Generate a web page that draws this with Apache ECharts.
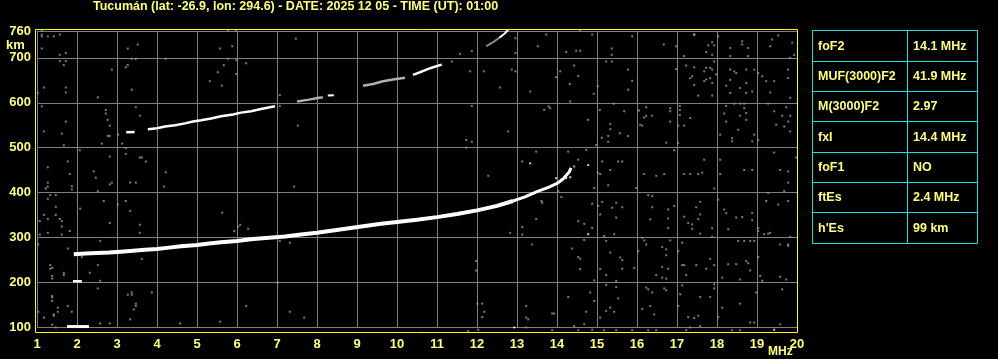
<!DOCTYPE html>
<html><head><meta charset="utf-8">
<script src="https://cdn.jsdelivr.net/npm/echarts@6/dist/echarts.min.js"></script>
<style>html,body{margin:0;padding:0;background:#000;}#c{width:998px;height:359px;}</style>
</head><body><div id="c"></div>
<script>
// ---------- DATA ----------
const titleText = 'Tucumán (lat: -26.9, lon: 294.6) - DATE: 2025 12 05 - TIME (UT): 01:00';
const freqMin = 1, freqMax = 20, freqStep = 1;
const heightMin = 100, heightMax = 760, heightStep = 100;
const yUnit = 'km';
const xUnit = 'MHz';

const tableLabels = ['foF2', 'MUF(3000)F2', 'M(3000)F2', 'fxI', 'foF1', 'ftEs', "h'Es"];
const tableValues = ['14.1 MHz', '41.9 MHz', '2.97', '14.4 MHz', 'NO', '2.4 MHz', '99 km'];

// main F trace (first hop), [MHz, km]
const traceF1 = [[1.92,262],[2.2,264],[2.5,265],[2.8,266],[3.1,268],[3.4,270],[3.7,272],[4.0,274],[4.3,277],[4.6,280],[5.0,283],[5.3,286],[5.6,289],[6.0,292],[6.4,296],[6.8,299],[7.2,302],[7.6,306],[8.0,310],[8.4,315],[8.8,320],[9.2,325],[9.6,330],[10.0,334],[10.5,339],[11.0,345],[11.5,352],[12.0,360],[12.5,370],[12.9,381]];
const traceF1cusp = [[12.9,381],[13.2,390],[13.5,402],[13.8,412],[14.0,420],[14.15,430],[14.3,445],[14.35,455]];
// second hop pieces
const traceF2a = [[3.23,534],[3.44,535]];
const traceF2b = [[3.77,541],[4.0,543],[4.2,547],[4.45,550],[4.7,554],[4.9,558],[5.1,561],[5.35,565],[5.6,570],[5.9,574],[6.1,578],[6.35,581],[6.6,586],[6.95,592]];
const traceF2c = [[7.5,603],[7.8,607],[8.05,611],[8.15,612]];
const traceF2d = [[8.27,616],[8.42,617]];
const traceF2e = [[9.15,638],[9.4,642],[9.65,648],[9.9,652],[10.2,656]];
const traceF2f = [[10.4,662],[10.6,669],[10.8,676],[11.0,682],[11.12,685]];
// third hop fragment
const traceF3a = [[12.23,726],[12.4,735],[12.56,745]];
const traceF3b = [[12.56,745],[12.7,755],[12.78,763]];
// sporadic E
const traceEs1 = [[1.75,101],[2.3,101]];
const traceEs2 = [[1.9,202],[2.12,202]];

// scattered noise echoes
const noiseUL = [[1.12,760],[1.12,752],[1.12,748],[1.27,748],[1.42,748],[1.57,752],[1.12,721],[1.57,707],[1.72,711],[1.57,693],[1.72,693],[1.67,684],[1.72,634],[1.72,623],[1.17,634],[1.02,622],[1.12,592],[1.72,558],[1.17,536],[1.62,531],[1.67,505],[2.72,584],[2.72,576],[2.77,562],[2.82,549],[2.77,526],[2.82,526],[3.03,529],[3.13,509],[3.22,499],[2.62,509],[2.52,612],[2.87,674],[3.22,679],[3.27,684],[3.27,721],[3.52,730],[3.37,698],[3.47,698],[3.37,629],[3.47,590],[3.57,571],[4.22,698],[5.57,721],[5.78,761],[5.98,761],[5.88,726],[5.78,698],[5.98,695],[6.23,688],[5.67,684],[5.52,668],[5.32,648],[5.62,638],[5.98,664],[7.07,617],[7.07,593],[7.47,743],[7.52,549]];
const noiseLL = [[2.07,494],[3.22,486],[2.82,480],[1.27,456],[1.77,469],[1.82,441],[2.42,447],[2.47,433],[3.57,478],[3.62,478],[3.72,469],[4.22,445],[1.27,422],[1.27,413],[1.22,409],[1.87,414],[1.87,407],[2.52,403],[2.82,418],[2.87,422],[3.33,422],[3.47,422],[4.18,413],[7.43,413],[1.33,394],[1.47,394],[1.27,386],[1.47,368],[1.47,350],[1.17,350],[1.27,341],[1.57,341],[1.62,336],[1.62,324],[1.82,314],[1.27,310],[1.07,336],[1.07,306],[1.62,306],[2.08,364],[2.67,381],[3.02,373],[3.22,381],[3.33,359],[2.82,332],[3.57,328],[3.57,310],[2.58,292],[1.77,275],[1.03,284],[5.63,355],[5.93,314],[6.03,324],[6.08,328],[6.28,319],[7.32,288],[7.07,292],[2.12,256],[2.52,238],[2.32,221],[2.52,186],[2.58,203],[1.33,238],[1.38,232],[1.33,230],[1.38,214],[1.38,208],[1.67,221],[1.67,216],[3.62,252],[3.27,172],[3.37,177],[3.37,172],[3.87,177],[3.47,152],[3.47,147],[3.42,139],[3.33,117],[2.82,108],[2.58,108],[1.38,169],[1.38,166],[1.38,158],[1.03,134],[1.17,121],[1.42,128],[1.42,125],[1.52,143],[1.52,134],[1.77,147],[1.87,134],[1.38,105],[1.47,99],[4.58,108],[5.58,112],[6.23,147],[7.32,134],[7.68,121],[7.02,199]];
const noiseUR = [[11.58,709],[11.87,715],[11.37,692],[11.83,670],[12.17,670],[12.58,634],[12.87,674],[12.96,670],[12.78,536],[11.73,517],[11.87,513],[11.73,500],[11.87,593],[12.96,711],[12.96,744],[13.52,726],[13.73,752],[13.33,625],[13.68,584],[13.79,592],[13.83,588],[14.08,670],[13.98,657],[14.32,642],[14.33,603],[14.43,683],[14.53,660],[14.23,713],[14.48,716],[14.58,716],[14.58,761],[14.88,752],[15.02,637],[14.92,620],[15.23,692],[15.37,692],[15.37,721],[15.37,707],[15.78,674],[15.88,649],[15.78,629],[15.88,748],[15.07,584],[14.78,562],[15.33,553],[15.33,541],[15.28,526],[15.12,522],[15.28,513],[15.57,532],[15.78,526],[15.68,581],[14.98,506],[15.42,598],[16.05,583],[16.23,590],[16.18,567],[16.23,571],[16.38,571],[16.08,551],[16.13,549],[16.83,588],[16.83,581],[16.83,558],[16.73,511],[16.67,730],[16.98,726],[16.98,675],[17.18,704],[17.23,683],[17.43,679],[17.38,659],[17.33,655],[17.43,640],[17.53,616],[17.73,713],[17.78,728],[17.88,735],[17.93,728],[17.88,707],[17.93,692],[18.03,748],[17.68,670],[17.73,678],[17.83,678],[17.88,674],[17.68,648],[17.73,652],[17.83,655],[17.88,644],[17.88,616],[17.98,663],[17.07,593],[17.07,584],[17.07,573],[17.33,566],[17.03,549],[17.18,549],[17.03,510],[18.33,722],[18.33,704],[18.63,737],[18.63,730],[18.78,722],[18.78,704],[18.33,674],[18.43,670],[18.48,666],[18.73,674],[18.93,674],[18.33,651],[18.23,638],[18.58,633],[18.73,644],[18.33,622],[18.73,622],[18.88,625],[19.03,666],[19.13,659],[19.23,648],[19.43,648],[19.33,623],[19.38,741],[19.53,750],[19.33,726],[19.88,734],[19.93,707],[19.83,700],[19.78,674],[19.78,655],[19.83,611],[18.23,593],[18.43,598],[18.58,598],[18.68,598],[18.68,588],[18.18,576],[18.58,571],[18.73,577],[18.73,562],[18.23,558],[18.53,540],[18.08,529],[18.38,521],[18.38,514],[18.93,529],[18.88,514],[19.03,517],[19.28,598],[19.43,581],[19.63,571],[19.48,551],[19.68,547],[19.73,590],[19.83,571],[19.83,536],[19.78,558]];
const noiseLR = [[13.48,491],[13.13,469],[14.28,491],[14.53,473],[14.73,495],[14.43,458],[15.13,469],[15.02,444],[15.08,441],[15.33,450],[15.53,469],[15.63,469],[16.18,441],[16.48,437],[16.68,441],[16.93,494],[17.18,441],[17.33,441],[17.53,441],[17.63,444],[17.68,473],[18.08,473],[18.08,441],[18.68,450],[18.88,450],[19.43,489],[19.58,450],[19.78,447],[19.98,478],[12.28,437],[12.83,310],[13.13,323],[13.13,306],[13.48,341],[13.38,284],[13.63,377],[13.61,381],[14.11,390],[14.03,403],[14.53,336],[14.68,330],[14.88,321],[14.88,375],[14.68,294],[14.93,410],[15.28,416],[15.03,370],[15.13,379],[15.08,351],[15.38,366],[15.48,377],[15.48,344],[15.63,367],[15.43,307],[15.18,303],[15.23,292],[15.98,410],[16.28,394],[16.38,392],[16.38,367],[16.33,340],[16.13,299],[16.18,293],[16.23,284],[16.83,293],[16.78,362],[16.93,370],[16.78,342],[16.78,321],[17.13,288],[17.18,346],[17.28,332],[17.38,329],[17.38,319],[17.48,367],[17.58,379],[17.58,351],[17.53,341],[17.58,308],[17.88,320],[17.88,301],[17.93,409],[18.03,384],[18.18,362],[18.23,354],[18.28,318],[18.48,344],[18.63,345],[18.88,354],[18.88,338],[19.03,321],[19.03,314],[19.18,307],[19.28,308],[19.33,310],[19.28,399],[19.23,381],[19.53,373],[19.68,403],[19.78,381],[19.78,422],[19.83,301],[19.78,284],[14.38,275],[14.53,256],[14.58,252],[14.58,229],[14.93,204],[15.08,229],[15.33,266],[15.58,255],[15.63,249],[15.23,216],[15.48,203],[15.63,230],[15.93,232],[16.03,269],[16.63,278],[16.73,273],[16.73,260],[16.63,234],[16.78,230],[16.63,210],[16.73,208],[16.48,216],[17.03,269],[17.13,238],[17.18,238],[17.23,216],[17.48,238],[17.73,230],[17.83,252],[17.93,238],[18.13,210],[18.28,240],[18.48,240],[18.53,292],[18.58,206],[18.68,292],[18.83,292],[18.73,247],[18.78,242],[18.83,226],[18.93,292],[19.03,256],[19.08,214],[19.13,203],[19.58,284],[19.73,206],[19.58,212],[19.78,281],[14.28,167],[14.83,177],[14.93,158],[14.73,134],[15.08,121],[15.23,136],[15.33,143],[15.43,134],[15.48,189],[15.53,164],[15.23,194],[16.23,188],[16.28,184],[16.38,177],[16.33,147],[16.13,140],[16.43,128],[16.68,186],[16.73,182],[17.03,147],[17.08,173],[17.13,193],[17.28,122],[17.43,120],[17.53,125],[17.58,167],[17.83,167],[17.93,195],[17.93,186],[18.03,122],[18.13,143],[18.58,152],[18.98,177],[18.83,110],[18.93,110],[19.63,184],[19.58,106],[12.01,152],[12.13,152],[12.18,134],[12.13,122],[11.98,247],[11.98,226],[13.23,147],[13.23,121],[13.28,117],[13.88,130],[13.93,130],[14.43,102],[14.68,106],[14.88,94],[14.53,93],[15.18,93],[15.48,93],[15.88,93],[16.28,93],[16.48,93],[17.23,93],[17.33,99],[17.58,102],[18.38,93],[18.58,93],[13.23,99],[12.03,94],[11.78,91],[13.88,93],[14.43,458]];
const noiseWhite = [[17.43,752],[13.33,465],[14.78,461],[14.78,307],[19.43,94],[12.93,99],[14.33,450],[14.33,434],[13.98,432],[14.23,432]];

// ---------- STYLE ----------
const FONT = 'Liberation Sans';
const TXT = '#ffff80';
const GRIDC = '#808080';
const NOISEC = '#9a9a9a';
const CYAN = '#1ee0e0';

function line(data, color, width) {
  return { type: 'line', data: data, symbol: 'none', clip: false, silent: true,
    lineStyle: { color: color, width: width }, z: 3 };
}
function dots(data, color) {
  return { type: 'scatter', data: data, symbol: 'rect', symbolSize: [2, 2], clip: false, silent: true,
    itemStyle: { color: color }, z: 2 };
}
function txt(x, y, s, size) {
  return { type: 'text', x: x, y: y, z: 21,
    style: { text: s, fill: TXT, fontSize: size, fontWeight: 'bold', fontFamily: FONT,
      verticalAlign: 'middle', align: 'left' } };
}

// table graphics
const tbl = { x0: 812.5, x1: 977.5, xm: 907.5, y0: 30.5, rowH: 30.3 };
const tableGraphics = [];
const nRows = tableLabels.length;
const yEnd = Math.round(tbl.y0 + nRows * tbl.rowH) + 0.5;
tableGraphics.push({ type: 'rect', shape: { x: tbl.x0, y: tbl.y0, width: tbl.x1 - tbl.x0, height: yEnd - tbl.y0 },
  style: { fill: 'none', stroke: CYAN, lineWidth: 1 }, z: 10 });
tableGraphics.push({ type: 'line', shape: { x1: tbl.xm, y1: tbl.y0, x2: tbl.xm, y2: yEnd },
  style: { stroke: CYAN, lineWidth: 1 }, z: 10 });
for (let i = 0; i < nRows; i++) {
  const top = Math.round(tbl.y0 + i * tbl.rowH) + 0.5;
  const bot = Math.round(tbl.y0 + (i + 1) * tbl.rowH) + 0.5;
  if (i > 0) tableGraphics.push({ type: 'line', shape: { x1: tbl.x0, y1: top, x2: tbl.x1, y2: top },
    style: { stroke: CYAN, lineWidth: 1 }, z: 10 });
  const cy = (top + bot) / 2 + 0.5;
  tableGraphics.push(txt(818, cy, tableLabels[i], 12.5));
  tableGraphics.push(txt(913, cy, tableValues[i], 12.5));
}

const chart = echarts.init(document.getElementById('c'), null, { renderer: 'canvas' });
chart.setOption({
  backgroundColor: '#000',
  animation: false,
  title: { text: titleText, left: 93, top: 0, padding: 0,
    textStyle: { color: TXT, fontSize: 12.5, fontWeight: 'bold', fontFamily: FONT } },
  grid: { left: 37, right: 201, top: 31, bottom: 32, containLabel: false },
  xAxis: { type: 'value', min: freqMin, max: freqMax, interval: freqStep,
    axisLine: { show: false }, axisTick: { show: false },
    splitLine: { show: true, lineStyle: { color: GRIDC, width: 1 } },
    axisLabel: { color: TXT, fontSize: 13, fontWeight: 'bold', fontFamily: FONT, margin: 11 } },
  yAxis: { type: 'value', min: heightMin, max: heightMax, interval: heightStep,
    axisLine: { show: false }, axisTick: { show: false },
    splitLine: { show: true, lineStyle: { color: GRIDC, width: 1 } },
    axisLabel: { color: TXT, fontSize: 13, fontWeight: 'bold', fontFamily: FONT, margin: 6 } },
  series: [
    dots(noiseUL, NOISEC), dots(noiseLL, NOISEC), dots(noiseUR, NOISEC), dots(noiseLR, NOISEC),
    dots(noiseWhite, '#ffffff'),
    line(traceF1, '#ffffff', 4),
    line(traceF1cusp, '#ffffff', 3),
    line(traceF2a, '#ffffff', 2.5),
    line(traceF2b, '#ffffff', 2.5),
    line(traceF2c, '#b0b0b0', 2.5),
    line(traceF2d, '#ffffff', 2),
    line(traceF2e, '#b0b0b0', 2.5),
    line(traceF2f, '#ffffff', 2.5),
    line(traceF3a, '#909090', 2),
    line(traceF3b, '#ffffff', 2),
    line(traceEs1, '#ffffff', 3),
    line(traceEs2, '#ffffff', 2.5)
  ],
  graphic: [
    { type: 'rect', shape: { x: 35.5, y: 29.5, width: 762, height: 303 },
      style: { fill: 'none', stroke: '#ffff00', lineWidth: 1 }, z: 20 },
    txt(6, 45, yUnit, 13),
    txt(768, 352, xUnit, 12)
  ].concat(tableGraphics)
});
</script>
</body></html>
